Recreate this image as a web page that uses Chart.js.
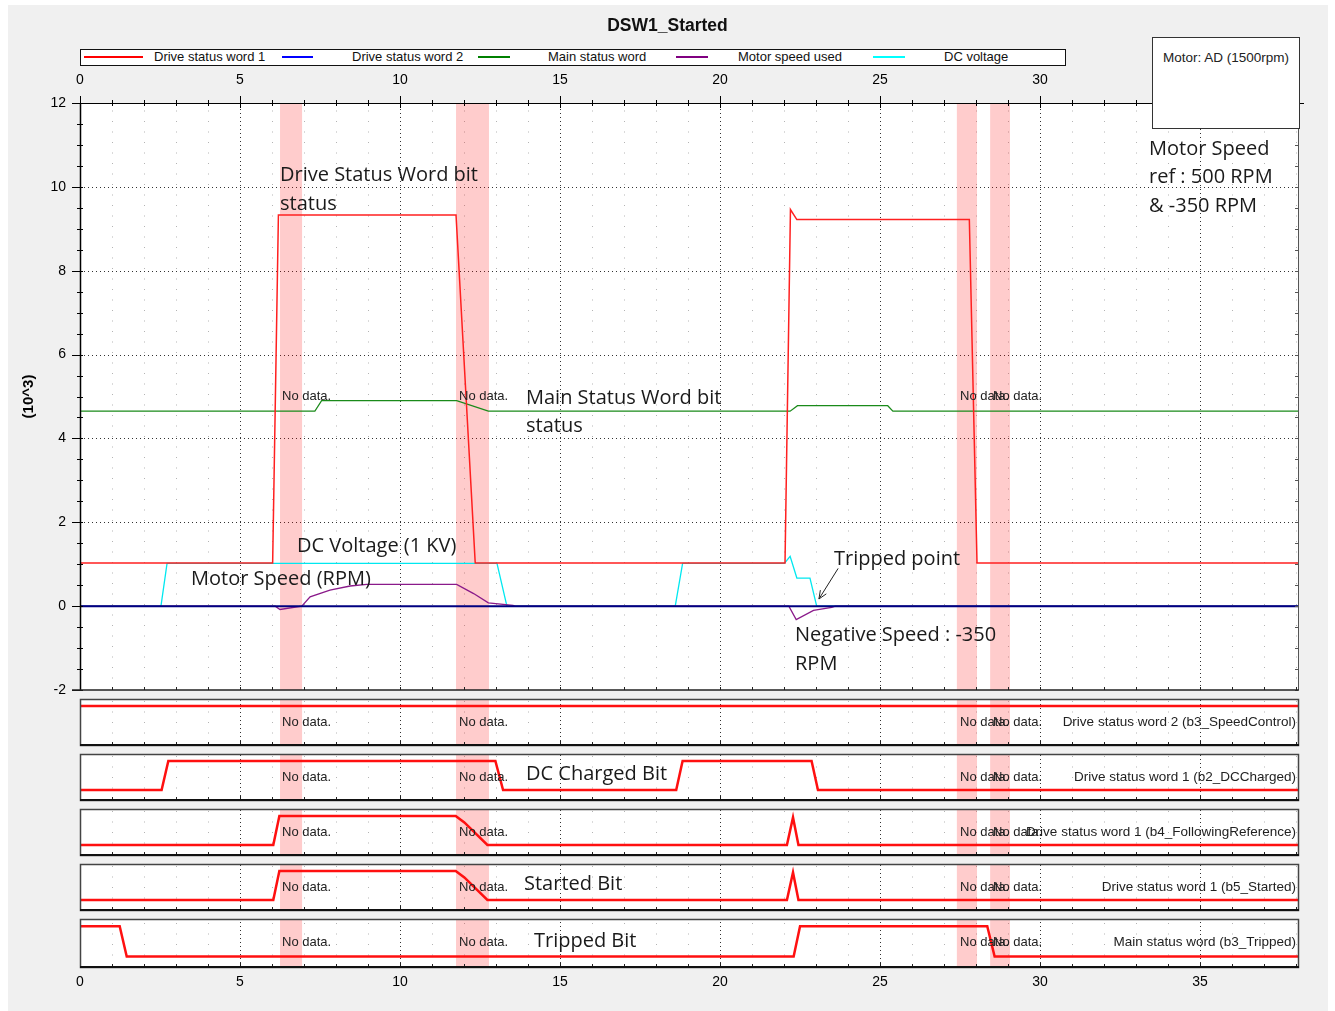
<!DOCTYPE html>
<html>
<head>
<meta charset="utf-8">
<script src="https://cdn.jsdelivr.net/npm/chart.js@4.4.1/dist/chart.umd.min.js"></script>
<style>
  body { margin: 0; background: #fff; width: 1335px; height: 1011px; overflow: hidden;
         font-family: "Liberation Sans", Arial, sans-serif; position: relative; }
  #frame { position: absolute; left: 8px; top: 5px; width: 1320px; height: 1006px; background: #f0f0f0; }
  canvas { position: absolute; left: 0; }
  .t { position: absolute; white-space: nowrap; }
  .nd { font-size: 13px; line-height: 14px; color: #222; }
  .note { font-family: "Open Sans", sans-serif; font-size: 20px; line-height: 29px; color: #1a1a1a; }
  .lg { font-size: 13px; line-height: 14px; color: #111; top: 50px; }
  .ls { position: absolute; height: 2px; top: 56px; }
</style>
</head>
<body>
<div id="frame"></div>
<canvas id="main" width="1335" height="700" style="top:0"></canvas>
<div id="strips"></div>
<div id="texts"></div>

<script>
// x axis: time (s)
const xMax = 38.06;
const xTickVals = [0, 5, 10, 15, 20, 25, 30, 35];
const noDataBands = [[6.25, 6.94], [11.75, 12.78], [27.4, 28.03], [28.44, 29.06]];

// main plot, values in 10^3
const dsw1T = [0, 6.02, 6.2, 11.75, 12.35, 22.03, 22.2, 22.4, 27.79, 28.03, xMax];
const dsw1V = [1.03, 1.03, 9.33, 9.33, 1.03, 1.03, 9.46, 9.22, 9.22, 1.03, 1.03];
const dsw2T = [0, xMax];
const dsw2V = [0, 0];
const mswT = [0, 7.34, 7.55, 11.77, 12.76, 22.19, 22.42, 25.24, 25.4, xMax];
const mswV = [4.65, 4.65, 4.9, 4.9, 4.65, 4.65, 4.78, 4.78, 4.65, 4.65];
const speedT = [0, 6.1, 6.25, 6.93, 7.19, 7.81, 8.44, 8.96, 11.77, 12.3, 12.76, 13.53, 13.6, 22.15, 22.38, 22.92, 23.49, 23.6, xMax];
const speedV = [0, 0, -0.08, 0, 0.22, 0.38, 0.48, 0.52, 0.52, 0.3, 0.08, 0.02, 0, 0, -0.32, -0.1, -0.03, 0, 0];
const dcT = [0, 2.53, 2.72, 13.03, 13.34, 18.6, 18.83, 22.01, 22.19, 22.4, 22.81, 23.02, xMax];
const dcV = [0, 0, 1.02, 1.02, 0, 0, 1.02, 1.02, 1.19, 0.67, 0.67, 0, 0];

// bit strips (0 / 1)
const speedCtrlT = [0, xMax];
const speedCtrlV = [1, 1];
const dcChargedT = [0, 2.55, 2.76, 12.98, 13.22, 18.63, 18.83, 22.86, 23.06, xMax];
const dcChargedV = [0, 0, 1, 1, 0, 0, 1, 1, 0, 0];
const followRefT = [0, 6.04, 6.23, 11.74, 12.01, 12.73, 22.09, 22.28, 22.45, xMax];
const followRefV = [0, 0, 1, 1, 0.78, 0, 0, 0.95, 0, 0];
const startedT = [0, 6.04, 6.23, 11.74, 12.01, 12.73, 22.09, 22.28, 22.45, xMax];
const startedV = [0, 0, 1, 1, 0.78, 0, 0, 0.95, 0, 0];
const trippedT = [0, 1.24, 1.46, 22.3, 22.5, 28.35, 28.58, xMax];
const trippedV = [1, 1, 0, 0, 1, 1, 0, 0];

const pts = (t, v) => t.map((x, i) => ({ x, y: v[i] }));
const font = { family: "Liberation Sans", size: 14 };

function line(label, t, v, color, width) {
  return { label, data: pts(t, v), borderColor: color, borderWidth: width,
           pointRadius: 0, tension: 0, fill: false };
}

// dotted grid + no-data bands behind the lines
function drawBack(chart, withRows) {
  const { ctx, chartArea: a, scales: { x, y } } = chart;
  ctx.save();
  ctx.fillStyle = "#fff";
  ctx.fillRect(a.left, a.top, a.right - a.left, a.bottom - a.top);
  ctx.lineWidth = 1;
  ctx.strokeStyle = "#b4b4b4";
  ctx.setLineDash([1, 9.5]);
  for (let v = 1; v < xMax; v++) {
    if (v % 5 === 0) continue;
    const X = Math.round(x.getPixelForValue(v)) + 0.5;
    ctx.beginPath(); ctx.moveTo(X, a.bottom - 1); ctx.lineTo(X, a.top); ctx.stroke();
  }
  ctx.strokeStyle = "#333";
  ctx.setLineDash([1, 3]);
  for (let v = 5; v < xMax; v += 5) {
    const X = Math.round(x.getPixelForValue(v)) + 0.5;
    ctx.beginPath(); ctx.moveTo(X, a.bottom); ctx.lineTo(X, a.top); ctx.stroke();
  }
  if (withRows) {
    for (let v = 0; v <= 10; v += 2) {
      const Y = Math.round(y.getPixelForValue(v)) + 0.5;
      ctx.beginPath(); ctx.moveTo(a.left, Y); ctx.lineTo(a.right, Y); ctx.stroke();
    }
  }
  ctx.setLineDash([]);
  ctx.fillStyle = "rgba(255,0,0,0.2)";
  noDataBands.forEach(([s, e]) => {
    const x0 = x.getPixelForValue(s), x1 = x.getPixelForValue(e);
    ctx.fillRect(x0, a.top, x1 - x0, a.bottom - a.top);
  });
  ctx.restore();
}

const mainDecor = {
  id: "mainDecor",
  beforeDatasetsDraw(chart) { drawBack(chart, true); },
  afterDatasetsDraw(chart) {
    const { ctx, chartArea: a, scales: { x, y } } = chart;
    ctx.save();
    ctx.strokeStyle = "#000";
    ctx.lineWidth = 1;
    // top axis
    ctx.beginPath(); ctx.moveTo(a.left, a.top + 0.5); ctx.lineTo(a.right + 6, a.top + 0.5); ctx.stroke();
    for (let v = 0; v <= xMax; v++) {
      const X = Math.round(x.getPixelForValue(v)) + 0.5;
      const big = v % 5 === 0;
      ctx.beginPath(); ctx.moveTo(X, a.top - (big ? 7 : 3)); ctx.lineTo(X, a.top + (big ? 5 : 3)); ctx.stroke();
    }
    // left axis
    ctx.lineWidth = 1.5;
    ctx.beginPath(); ctx.moveTo(a.left + 0.5, a.top); ctx.lineTo(a.left + 0.5, a.bottom); ctx.stroke();
    ctx.lineWidth = 1;
    for (let v = -2; v <= 12; v += 0.5) {
      const Y = Math.round(y.getPixelForValue(v)) + 0.5;
      const big = v % 2 === 0;
      ctx.beginPath(); ctx.moveTo(a.left - (big ? 8 : 3), Y); ctx.lineTo(a.left + 3, Y); ctx.stroke();
    }
    // right axis
    ctx.strokeStyle = "#555";
    ctx.beginPath(); ctx.moveTo(a.right + 0.5, a.top); ctx.lineTo(a.right + 0.5, a.bottom); ctx.stroke();
    for (let v = -2; v <= 12; v += 0.5) {
      const Y = Math.round(y.getPixelForValue(v)) + 0.5;
      ctx.beginPath(); ctx.moveTo(a.right - 3, Y); ctx.lineTo(a.right, Y); ctx.stroke();
    }
    // bottom
    ctx.strokeStyle = "#222";
    ctx.lineWidth = 1.5;
    ctx.beginPath(); ctx.moveTo(a.left - 8, a.bottom); ctx.lineTo(a.right + 1, a.bottom); ctx.stroke();
    ctx.lineWidth = 1;
    for (let v = 1; v <= xMax; v++) {
      const X = Math.round(x.getPixelForValue(v)) + 0.5;
      ctx.beginPath(); ctx.moveTo(X, a.bottom - 3); ctx.lineTo(X, a.bottom); ctx.stroke();
    }
    // "Tripped point" arrow
    const ax0 = x.getPixelForValue(23.69), ay0 = y.getPixelForValue(0.9);
    const ax1 = x.getPixelForValue(23.09), ay1 = y.getPixelForValue(0.17);
    ctx.strokeStyle = "#222";
    ctx.beginPath(); ctx.moveTo(ax0, ay0); ctx.lineTo(ax1, ay1); ctx.stroke();
    const ang = Math.atan2(ay1 - ay0, ax1 - ax0);
    ctx.beginPath();
    ctx.moveTo(ax1 - 9 * Math.cos(ang - 0.4), ay1 - 9 * Math.sin(ang - 0.4));
    ctx.lineTo(ax1, ay1);
    ctx.lineTo(ax1 - 9 * Math.cos(ang + 0.4), ay1 - 9 * Math.sin(ang + 0.4));
    ctx.stroke();
    ctx.restore();
  }
};

new Chart(document.getElementById("main"), {
  type: "line",
  data: {
    datasets: [
      line("Drive status word 2", dsw2T, dsw2V, "#000080", 2),
      line("Drive status word 1", dsw1T, dsw1V, "#ff2020", 1.5),
      line("Main status word", mswT, mswV, "#1a8a1a", 1.2),
      line("Motor speed used", speedT, speedV, "#8a1a8a", 1.3),
      line("DC voltage", dcT, dcV, "#00e8f0", 1.3),
    ],
  },
  options: {
    responsive: false,
    animation: false,
    devicePixelRatio: 1,
    events: [],
    layout: { padding: { left: 16, right: 37, top: 0, bottom: 10 } },
    plugins: { legend: { display: false }, tooltip: { enabled: false } },
    scales: {
      x: {
        type: "linear", position: "top", min: 0, max: xMax,
        grid: { display: false, drawTicks: false }, border: { display: false },
        afterBuildTicks: (s) => { s.ticks = xTickVals.map((v) => ({ value: v })); },
        afterFit: (s) => { s.height = 103; s.paddingLeft = 0; s.paddingRight = 0; },
        ticks: { font, color: "#000", padding: 14, maxRotation: 0 },
      },
      y: {
        type: "linear", min: -2, max: 12,
        grid: { display: false, drawTicks: false }, border: { display: false },
        afterFit: (s) => { s.width = 64; s.paddingTop = 0; s.paddingBottom = 0; },
        ticks: { stepSize: 2, font, color: "#000", padding: 14 },
        title: { display: true, text: "(10^3)", font: { family: "Liberation Sans", size: 15, weight: "bold" }, color: "#000", padding: 4 },
      },
    },
  },
  plugins: [mainDecor],
});

// strip charts
const stripTops = [699, 754, 809, 864, 919];
const stripH = 46;
const strips = [
  { t: speedCtrlT, v: speedCtrlV, name: "Drive status word 2 (b3_SpeedControl)" },
  { t: dcChargedT, v: dcChargedV, name: "Drive status word 1 (b2_DCCharged)" },
  { t: followRefT, v: followRefV, name: "Drive status word 1 (b4_FollowingReference)" },
  { t: startedT, v: startedV, name: "Drive status word 1 (b5_Started)" },
  { t: trippedT, v: trippedV, name: "Main status word (b3_Tripped)" },
];

const stripDecor = {
  id: "stripDecor",
  beforeDatasetsDraw(chart) { drawBack(chart, false); },
  afterDatasetsDraw(chart) {
    const { ctx, chartArea: a, scales: { x } } = chart;
    ctx.save();
    ctx.strokeStyle = "#222";
    ctx.lineWidth = 1;
    for (let v = 1; v <= xMax; v++) {
      const X = Math.round(x.getPixelForValue(v)) + 0.5;
      ctx.beginPath(); ctx.moveTo(X, a.bottom - (v % 5 === 0 ? 4 : 3)); ctx.lineTo(X, a.bottom); ctx.stroke();
    }
    ctx.strokeStyle = "#444";
    ctx.lineWidth = 1.5;
    ctx.strokeRect(a.left + 0.5, a.top + 0.5, a.right - a.left, a.bottom - a.top);
    ctx.strokeStyle = "#111";
    ctx.lineWidth = 2;
    ctx.beginPath(); ctx.moveTo(a.left, a.bottom); ctx.lineTo(a.right + 1, a.bottom); ctx.stroke();
    ctx.restore();
  }
};

const stripBox = document.getElementById("strips");
strips.forEach((s, i) => {
  const last = i === strips.length - 1;
  const cv = document.createElement("canvas");
  cv.width = 1335;
  cv.height = stripH + 4 + (last ? 30 : 0);
  cv.style.top = (stripTops[i] - 2) + "px";
  stripBox.appendChild(cv);
  new Chart(cv, {
    type: "line",
    data: { datasets: [line(s.name, s.t, s.v, "#ff1010", 2.5)] },
    options: {
      responsive: false,
      animation: false,
      devicePixelRatio: 1,
      events: [],
      layout: { padding: { left: 80, right: 37, top: 2, bottom: last ? 0 : 2 } },
      plugins: { legend: { display: false }, tooltip: { enabled: false } },
      scales: {
        x: {
          type: "linear", position: "bottom", min: 0, max: xMax, display: last,
          grid: { display: false, drawTicks: false }, border: { display: false },
          afterBuildTicks: (sc) => { sc.ticks = xTickVals.map((v) => ({ value: v })); },
          afterFit: (sc) => { sc.height = last ? 30 : 0; sc.paddingLeft = 0; sc.paddingRight = 0; },
          ticks: { font, color: "#000", padding: 7, maxRotation: 0 },
        },
        y: { type: "linear", min: -10 / 29, max: 1 + 7 / 29, display: false },
      },
    },
    plugins: [stripDecor],
  });
});

// texts
const T = document.getElementById("texts");
function txt(cls, s, left, top, extra) {
  const d = document.createElement("div");
  d.className = "t " + cls;
  d.textContent = s;
  d.style.left = left + "px";
  d.style.top = top + "px";
  if (extra) Object.assign(d.style, extra);
  T.appendChild(d);
  return d;
}

// title
txt("", "DSW1_Started", 0, 14, { width: "1335px", textAlign: "center", fontWeight: "bold", fontSize: "17.5px", lineHeight: "22px", color: "#111" });

// legend
const lgBox = document.createElement("div");
Object.assign(lgBox.style, { position: "absolute", left: "80px", top: "49px", width: "984px", height: "15px", border: "1px solid #111", background: "#fff" });
T.appendChild(lgBox);
const legendItems = [
  ["#ff0000", 84, 143, "Drive status word 1", 154],
  ["#0000ff", 282, 313, "Drive status word 2", 352],
  ["#008000", 478, 510, "Main status word", 548],
  ["#800080", 676, 708, "Motor speed used", 738],
  ["#00ffff", 873, 905, "DC voltage", 944],
];
legendItems.forEach(([c, x0, x1, label, tx]) => {
  const l = document.createElement("div");
  l.className = "ls";
  Object.assign(l.style, { left: x0 + "px", width: (x1 - x0) + "px", backgroundColor: c });
  T.appendChild(l);
  txt("lg", label, tx, 50);
});

// motor box
const mb = document.createElement("div");
Object.assign(mb.style, { position: "absolute", left: "1152px", top: "37px", width: "146px", height: "90px", border: "1px solid #333", background: "#fff" });
T.appendChild(mb);
txt("", "Motor: AD (1500rpm)", 1152, 51, { width: "148px", textAlign: "center", fontSize: "13.5px", lineHeight: "14px", color: "#222" });

// no-data labels
const ndX = [282, 459, 960, 993];
ndX.forEach((x) => txt("nd", "No data.", x, 389));
stripTops.forEach((top, i) => {
  ndX.forEach((x) => txt("nd", "No data.", x, top + 16));
  txt("nd", strips[i].name, 0, top + 16, { width: "1296px", textAlign: "right", fontSize: "13.5px" });
});

// annotations
const notes = [
  ["Drive Status Word bit", 280, 174], ["status", 280, 203],
  ["Main Status Word bit", 526, 397], ["status", 526, 425],
  ["DC Voltage (1 KV)", 297, 545],
  ["Motor Speed (RPM)", 191, 578],
  ["Tripped point", 834, 558],
  ["Negative Speed : -350", 795, 634], ["RPM", 795, 663],
  ["Motor Speed", 1149, 148], ["ref : 500 RPM", 1149, 176], ["& -350 RPM", 1149, 205],
  ["DC Charged Bit", 526, 773],
  ["Started Bit", 524, 883],
  ["Tripped Bit", 534, 940],
];
notes.forEach(([s, x, cy]) => txt("note", s, x, cy - 15));
</script>
</body>
</html>
